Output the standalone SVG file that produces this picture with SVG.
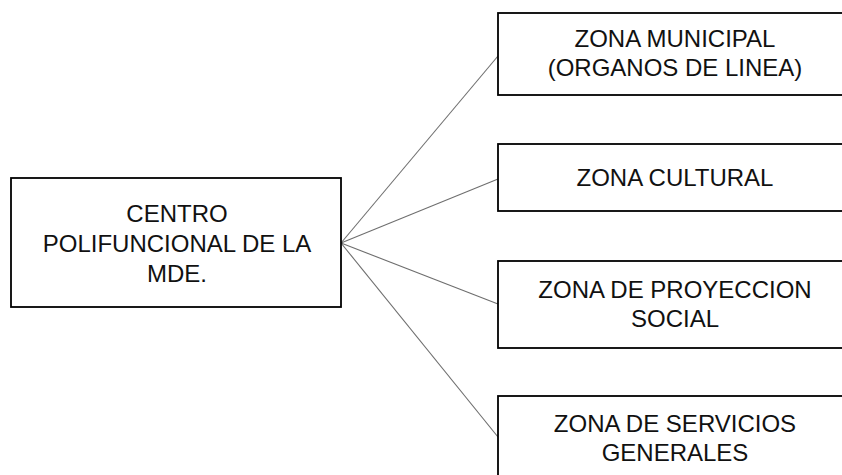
<svg xmlns="http://www.w3.org/2000/svg" width="842" height="475" viewBox="0 0 842 475">
<style>
.box{fill:#fff;stroke:#000;stroke-width:1.8}
.lbl{font-family:"Liberation Sans",Arial,sans-serif;font-size:24px;fill:#111;text-anchor:middle}
.con{stroke:#6e6e6e;stroke-width:1.1;fill:none}
</style>
<rect width="842" height="475" fill="#fff"/>
<g id="connectors">
<line class="con" x1="341" y1="243" x2="498" y2="56"/>
<line class="con" x1="341" y1="243" x2="498" y2="179"/>
<line class="con" x1="341" y1="243" x2="498" y2="304"/>
<line class="con" x1="341" y1="243" x2="498" y2="437"/>
</g>
<g id="centro">
<rect class="box" x="11" y="178" width="330" height="129"/>
<text class="lbl" x="177" y="222">CENTRO</text>
<text class="lbl" x="177" y="252">POLIFUNCIONAL DE LA</text>
<text class="lbl" x="177" y="282">MDE.</text>
</g>
<g id="zona-municipal">
<rect class="box" x="498" y="13" width="360" height="82"/>
<text class="lbl" x="675" y="47">ZONA MUNICIPAL</text>
<text class="lbl" x="675" y="76">(ORGANOS DE LINEA)</text>
</g>
<g id="zona-cultural">
<rect class="box" x="498" y="144" width="360" height="67"/>
<text class="lbl" x="675" y="186">ZONA CULTURAL</text>
</g>
<g id="zona-proyeccion">
<rect class="box" x="498" y="261" width="360" height="87"/>
<text class="lbl" x="675" y="298">ZONA DE PROYECCION</text>
<text class="lbl" x="675" y="327">SOCIAL</text>
</g>
<g id="zona-servicios">
<rect class="box" x="498" y="396" width="360" height="100"/>
<text class="lbl" x="675" y="432">ZONA DE SERVICIOS</text>
<text class="lbl" x="675" y="461">GENERALES</text>
</g>
</svg>
